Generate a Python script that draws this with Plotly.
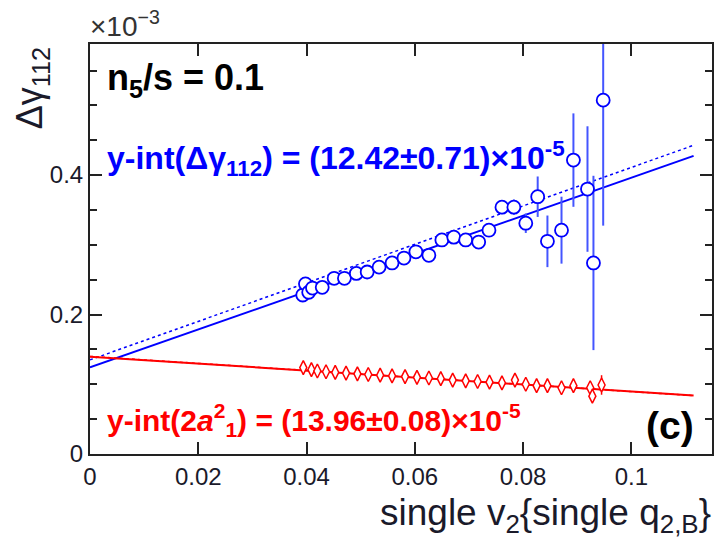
import plotly.graph_objects as go

# Delta gamma_112 (units of 1e-3) vs single v2{single q2,B}
blue_x = [0.0393, 0.0398, 0.0404, 0.0411, 0.0429, 0.0451, 0.0470, 0.0492, 0.0512,
          0.0534, 0.0558, 0.0580, 0.0602, 0.0626, 0.0650, 0.0672, 0.0694, 0.0718,
          0.0737, 0.0761, 0.0783, 0.0805, 0.0827, 0.0845, 0.0871, 0.0893, 0.0919,
          0.0930, 0.0948]
blue_y = [0.228, 0.244, 0.232, 0.238, 0.239, 0.252, 0.252, 0.259, 0.261,
          0.268, 0.274, 0.281, 0.290, 0.285, 0.307, 0.311, 0.307, 0.304,
          0.321, 0.354, 0.354, 0.331, 0.369, 0.305, 0.321, 0.4215, 0.380,
          0.274, 0.5075]
blue_err = [0.004, 0.004, 0.004, 0.004, 0.004, 0.004, 0.004, 0.004, 0.004,
            0.004, 0.004, 0.004, 0.005, 0.005, 0.005, 0.005, 0.006, 0.006,
            0.008, 0.010, 0.011, 0.014, 0.029, 0.037, 0.048, 0.067, 0.090,
            0.125, 0.180]

# 2 a1^2 (units of 1e-3)
red_x = [0.0394, 0.0409, 0.0420, 0.0436, 0.0453, 0.0473, 0.0494, 0.0514, 0.0536,
         0.0558, 0.0582, 0.0604, 0.0626, 0.0648, 0.0670, 0.0694, 0.0716, 0.0738,
         0.0761, 0.0785, 0.0805, 0.0825, 0.0845, 0.0871, 0.0893, 0.0924, 0.0928,
         0.0945]
red_y = [0.124, 0.121, 0.119, 0.118, 0.117, 0.116, 0.115, 0.114, 0.113,
         0.112, 0.111, 0.110, 0.109, 0.108, 0.106, 0.105, 0.104, 0.103,
         0.102, 0.106, 0.100, 0.098, 0.098, 0.095, 0.098, 0.095, 0.083,
         0.099]
red_err = [0.003, 0.002, 0.002, 0.002, 0.002, 0.002, 0.002, 0.002, 0.002,
           0.002, 0.002, 0.002, 0.002, 0.002, 0.002, 0.002, 0.002, 0.002,
           0.003, 0.003, 0.003, 0.003, 0.003, 0.003, 0.003, 0.005, 0.008,
           0.014]

# linear fits: intercept (1e-3) and slope
blue_fit = (0.1242, 2.72)
blue_fit_alt = (0.135, 2.76)
red_fit = (0.1396, -0.50)
red_fit_alt = (0.1400, -0.505)
fit_x = [0.0, 0.1115]

x_ticks = [0, 0.02, 0.04, 0.06, 0.08, 0.1]
x_tick_text = ["0", "0.02", "0.04", "0.06", "0.08", "0.1"]
y_ticks = [0, 0.2, 0.4]
y_tick_text = ["0", "0.2", "0.4"]

BLUE = "#0000ff"
RED = "#ff0000"
FONT = "Liberation Sans, Arial, sans-serif"


def line_of(fit):
    b, m = fit
    return [b + m * x for x in fit_x]


fig = go.Figure()

fig.add_trace(go.Scatter(x=fit_x, y=line_of(blue_fit_alt), mode="lines",
                         line=dict(color=BLUE, width=1.5, dash="dot"),
                         showlegend=False, hoverinfo="skip"))
fig.add_trace(go.Scatter(x=fit_x, y=line_of(blue_fit), mode="lines",
                         line=dict(color=BLUE, width=2),
                         showlegend=False, hoverinfo="skip"))
fig.add_trace(go.Scatter(x=fit_x, y=line_of(red_fit_alt), mode="lines",
                         line=dict(color=RED, width=1.5, dash="dot"),
                         showlegend=False, hoverinfo="skip"))
fig.add_trace(go.Scatter(x=fit_x, y=line_of(red_fit), mode="lines",
                         line=dict(color=RED, width=2),
                         showlegend=False, hoverinfo="skip"))

fig.add_trace(go.Scatter(
    x=red_x, y=red_y, mode="markers",
    marker=dict(symbol="diamond-tall", size=10, color="white",
                line=dict(color=RED, width=1.5)),
    error_y=dict(type="data", array=red_err, color=RED, thickness=1.5, width=0),
    showlegend=False))

fig.add_trace(go.Scatter(
    x=blue_x, y=blue_y, mode="markers",
    marker=dict(symbol="circle", size=13, color="white",
                line=dict(color=BLUE, width=1.8)),
    error_y=dict(type="data", array=blue_err, color="#4455ff", thickness=2, width=0),
    showlegend=False, cliponaxis=True))

axis_common = dict(showline=True, linecolor="#222", linewidth=2, mirror="ticks",
                   ticks="inside", tickcolor="#222", tickwidth=2, ticklen=12,
                   showgrid=False, zeroline=False,
                   tickfont=dict(family=FONT, size=24, color="#1a1a2a"))

fig.update_xaxes(range=[0, 0.1149], tickvals=x_ticks, ticktext=x_tick_text,
                 **axis_common)
fig.update_yaxes(range=[0, 0.588], tickvals=y_ticks, ticktext=y_tick_text,
                 minor=dict(dtick=0.05, tick0=0, ticks="inside", ticklen=7,
                            tickwidth=2, tickcolor="#222"),
                 **axis_common)

W, H = 720, 538
L, R, T, B = 90, 6, 44, 84
pw, ph = W - L - R, H - T - B


def px(x):
    return (x - L) / pw


def py(y):
    return (H - B - y) / ph


def label(text, x, y, size, color, xanchor="left", angle=0):
    return dict(text=text, x=px(x), y=py(y), xref="paper", yref="paper",
                xanchor=xanchor, yanchor="middle", textangle=angle,
                font=dict(family=FONT, size=size, color=color), showarrow=False)


annotations = [
    label("<b>n<sub>5</sub>/s = 0.1</b>", 105, 80, 36, "black"),
    label("<b>y-int(Δγ<sub>112</sub>) = (12.42±0.71)×10<sup>-5</sup></b>",
          105, 158, 32, BLUE),
    label("<b>y-int(2<i>a</i><sup>2</sup><sub>1</sub>) = (13.96±0.08)×10<sup>-5</sup></b>",
          105, 420, 30, RED),
    label("<b>(c)</b>", 698, 425, 39, "black", xanchor="right"),
    label("×10<sup>−3</sup>", 88, 24, 28, "#333"),
    label("Δγ<sub>112</sub>", 32, 88, 36, "#1a1a2a", xanchor="center", angle=-90),
    label("single v<sub>2</sub>{single q<sub>2,B</sub>}", 715, 515, 37, "#1a1a2a",
          xanchor="right"),
]

fig.update_layout(width=W, height=H, margin=dict(l=L, r=R, t=T, b=B),
                  paper_bgcolor="white", plot_bgcolor="white",
                  annotations=annotations, showlegend=False)

fig.write_html("out.html")
